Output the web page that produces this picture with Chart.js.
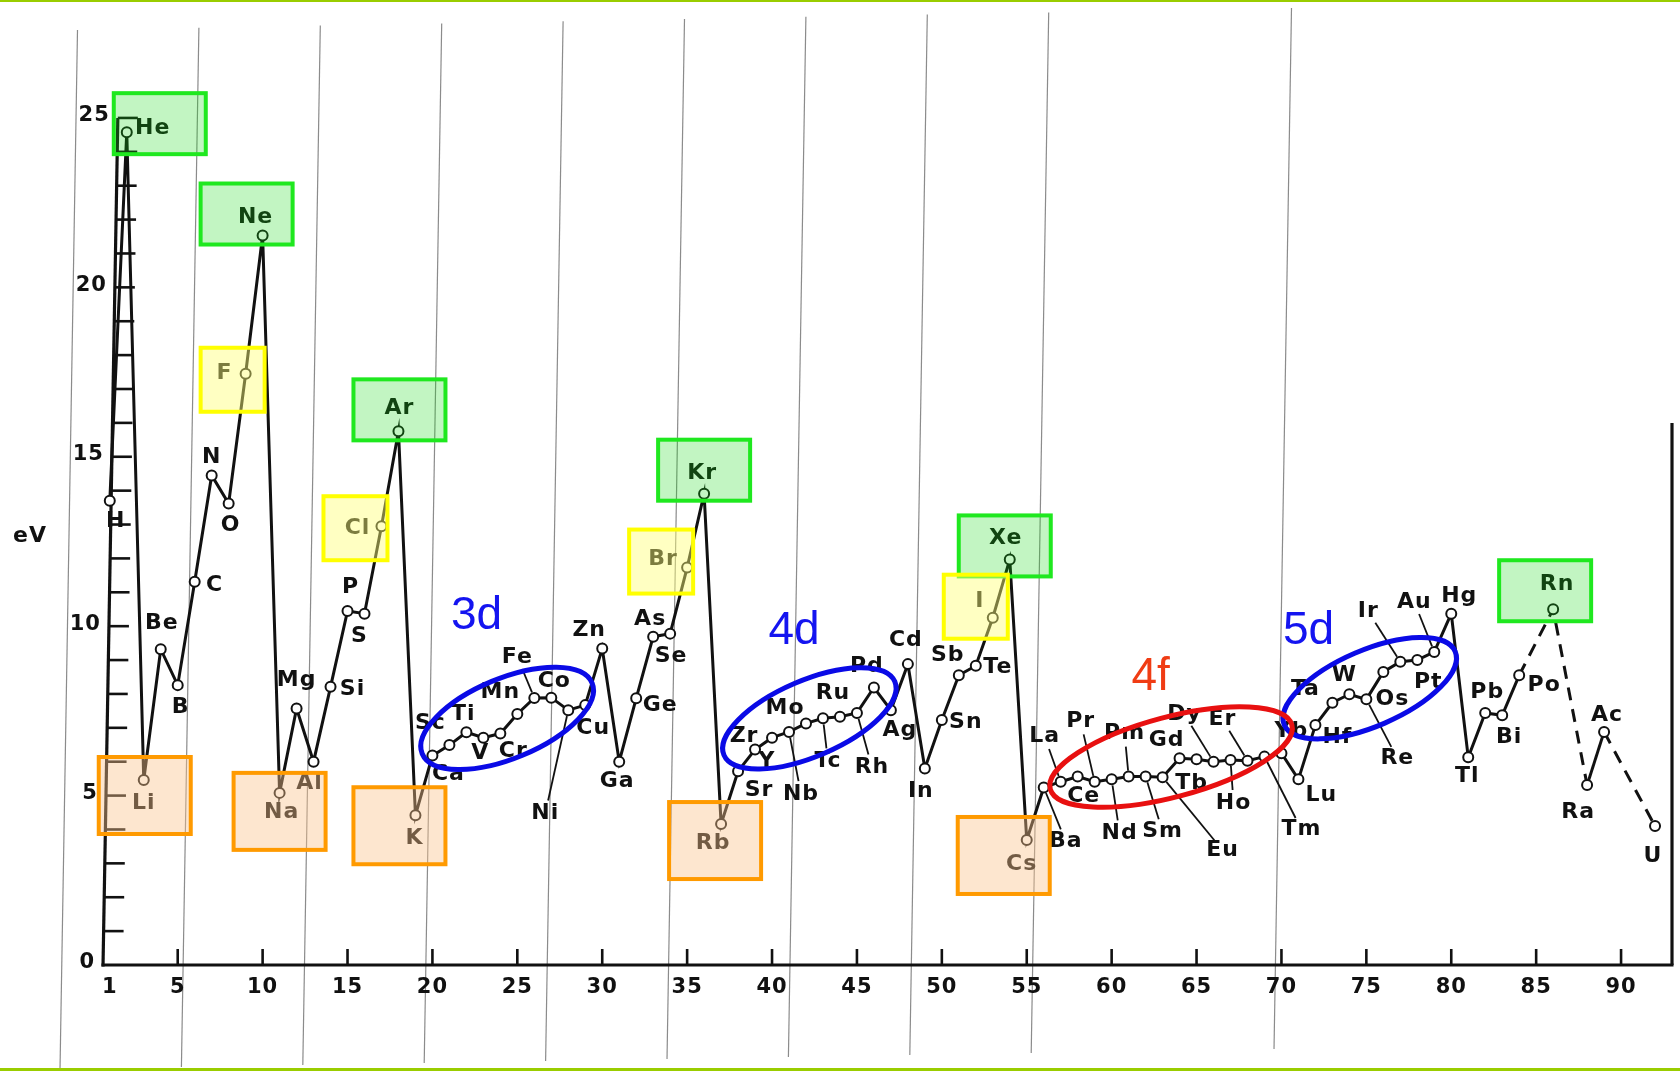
<!DOCTYPE html>
<html>
<head>
<meta charset="utf-8">
<title>First ionization energy</title>
<script src="https://cdn.jsdelivr.net/npm/chart.js@4.4.1/dist/chart.umd.min.js"></script>
<style>
    html, body { margin: 0; padding: 0; background: #fff; overflow: hidden; }
    #wrap { position: relative; width: 1680px; height: 1071px; }
</style>
</head>
<body>
<div id="wrap"><canvas id="chart"></canvas></div>
<script>
// Elements plotted (At, Fr, Th, Pa are missing: those gaps are dashed)
const symbols = [
    'H', 'He', 'Li', 'Be', 'B', 'C', 'N', 'O', 'F', 'Ne',
    'Na', 'Mg', 'Al', 'Si', 'P', 'S', 'Cl', 'Ar', 'K', 'Ca',
    'Sc', 'Ti', 'V', 'Cr', 'Mn', 'Fe', 'Co', 'Ni', 'Cu', 'Zn',
    'Ga', 'Ge', 'As', 'Se', 'Br', 'Kr', 'Rb', 'Sr', 'Y', 'Zr',
    'Nb', 'Mo', 'Tc', 'Ru', 'Rh', 'Pd', 'Ag', 'Cd', 'In', 'Sn',
    'Sb', 'Te', 'I', 'Xe', 'Cs', 'Ba', 'La', 'Ce', 'Pr', 'Nd',
    'Pm', 'Sm', 'Eu', 'Gd', 'Tb', 'Dy', 'Ho', 'Er', 'Tm', 'Yb',
    'Lu', 'Hf', 'Ta', 'W', 'Re', 'Os', 'Ir', 'Pt', 'Au', 'Hg',
    'Tl', 'Pb', 'Bi', 'Po', 'Rn', 'Ra', 'Ac', 'U'
];
const atomicNumbers = [
    1, 2, 3, 4, 5, 6, 7, 8, 9, 10,
    11, 12, 13, 14, 15, 16, 17, 18, 19, 20,
    21, 22, 23, 24, 25, 26, 27, 28, 29, 30,
    31, 32, 33, 34, 35, 36, 37, 38, 39, 40,
    41, 42, 43, 44, 45, 46, 47, 48, 49, 50,
    51, 52, 53, 54, 55, 56, 57, 58, 59, 60,
    61, 62, 63, 64, 65, 66, 67, 68, 69, 70,
    71, 72, 73, 74, 75, 76, 77, 78, 79, 80,
    81, 82, 83, 84, 86, 88, 89, 92
];
// first ionization energy, eV
const energies = [
    13.7, 24.58, 5.46, 9.32, 8.26, 11.31, 14.45, 13.62, 17.45, 21.53,
    5.08, 7.57, 6.0, 8.21, 10.45, 10.37, 12.95, 15.75, 4.42, 6.18,
    6.49, 6.87, 6.71, 6.83, 7.41, 7.88, 7.89, 7.52, 7.67, 9.34,
    6.0, 7.87, 9.69, 9.78, 11.73, 13.91, 4.16, 5.72, 6.36, 6.71,
    6.88, 7.13, 7.28, 7.33, 7.44, 8.19, 7.52, 8.88, 5.80, 7.23,
    8.55, 8.83, 10.25, 11.97, 3.69, 5.24, 5.41, 5.56, 5.41, 5.48,
    5.56, 5.56, 5.54, 6.10, 6.07, 6.0, 6.05, 6.03, 6.15, 6.25,
    5.48, 7.08, 7.74, 7.99, 7.84, 8.65, 8.95, 9.0, 9.24, 10.37,
    6.13, 7.44, 7.37, 8.55, 10.5, 5.31, 6.88, 4.1
];

const xTicks = [1, 5, 10, 15, 20, 25, 30, 35, 40, 45, 50, 55, 60, 65, 70, 75, 80, 85, 90];
const yTicks = [0, 5, 10, 15, 20, 25];

const nobleGases = ['He', 'Ne', 'Ar', 'Kr', 'Xe', 'Rn'];
const halogens = ['F', 'Cl', 'Br', 'I'];
const alkaliMetals = ['Li', 'Na', 'K', 'Rb', 'Cs'];

// sub-shell groups: ellipse centre and caption position (Z, eV)
const shellNames = ['3d', '4d', '5d', '4f'];
const shellCenterZ = [24.4, 42.2, 75.2, 63.5];
const shellCenterEV = [7.28, 7.28, 8.17, 6.14];
const shellTextZ = [22.6, 41.3, 71.6, 62.3];
const shellTextEV = [10.3, 9.84, 9.84, 8.49];

// ---- styles ----
const labelOffset = {
    H: [6, 20], He: [26, -4], Li: [0, 23], Be: [1, -26], B: [3, 22], C: [20, 3], N: [0, -18], O: [2, 22],
    F: [-21, 0], Ne: [-7, -18], Na: [2, 19], Mg: [0, -28], Al: [-4, 22], Si: [22, 2], P: [3, -24], S: [-5, 23],
    Cl: [-24, 2], Ar: [1, -23], K: [-1, 23], Ca: [16, 19], Sc: [-19, -22], Ti: [-3, -18], V: [-3, 16], Cr: [13, 18],
    Mn: [-17, -22], Fe: [-17, -41], Co: [3, -16], Ni: [-23, 103], Cu: [8, 23], Zn: [-13, -18], Ga: [-2, 20],
    Ge: [24, 7], As: [-3, -17], Se: [1, 23], Br: [-24, -8], Kr: [-2, -20], Rb: [-8, 19], Sr: [21, 19], Y: [12, 12],
    Zr: [-28, -1], Nb: [12, 62], Mo: [-21, -15], Tc: [5, 43], Ru: [-7, -23], Rh: [15, 54], Pd: [-7, -21],
    Ag: [9, 20], Cd: [-2, -24], In: [-4, 23], Sn: [24, 2], Sb: [-11, -20], Te: [22, 1], I: [-13, -16],
    Xe: [-4, -21], Cs: [-5, 24], Ba: [22, 54], La: [-16, -45], Ce: [6, 20], Pr: [-14, -60], Nd: [8, 54],
    Pm: [-4, -43], Sm: [17, 55], Eu: [60, 73], Gd: [-13, -18], Tb: [-5, 24], Dy: [-29, -47], Ho: [3, 43],
    Er: [-25, -41], Tm: [37, 73], Yb: [10, -22], Lu: [23, 16], Hf: [22, 12], Ta: [-27, -13], W: [-5, -19],
    Re: [31, 59], Os: [9, 27], Ir: [-32, -50], Pt: [11, 22], Au: [-20, -50], Hg: [8, -17], Tl: [-1, 19],
    Pb: [2, -21], Bi: [7, 22], Po: [25, 10], Rn: [4, -25], Ra: [-9, 27], Ac: [3, -17], U: [-2, 30]
};
const leaders = ['Fe', 'Ni', 'Nb', 'Tc', 'Rh', 'Ba', 'La', 'Pr', 'Nd', 'Pm', 'Sm', 'Eu', 'Dy', 'Ho', 'Er', 'Tm', 'Re', 'Ir', 'Au'];

// box left/top relative to the point
const boxOffset = {
    He: [-13, -39], Ne: [-62, -52], Ar: [-45, -52], Kr: [-46, -54], Xe: [-51, -44], Rn: [-54, -49],
    F: [-45, -26], Cl: [-58, -30], Br: [-58, -38], I: [-49, -43],
    Li: [-45, -23], Na: [-46, -20], K: [-62, -28], Rb: [-52, -22], Cs: [-69, -23]
};
const boxStyles = [
    { members: nobleGases, w: 92, h: 61, fill: 'rgba(20, 215, 20, 0.26)', stroke: '#1fe81f' },
    { members: halogens, w: 64, h: 64, fill: 'rgba(255, 255, 120, 0.45)', stroke: '#ffff00' },
    { members: alkaliMetals, w: 92, h: 77, fill: 'rgba(250, 195, 140, 0.42)', stroke: '#ff9a00' }
];
const shellStyles = {
    '3d': { rx: 92, ry: 40, rot: -22.6, color: '#0a0ae6', text: '#1414f0' },
    '4d': { rx: 93, ry: 38, rot: -23.3, color: '#0a0ae6', text: '#1414f0' },
    '5d': { rx: 93, ry: 38, rot: -23.3, color: '#0a0ae6', text: '#1414f0' },
    '4f': { rx: 125, ry: 40, rot: -14.9, color: '#e81010', text: '#f03c14' }
};

const FONT = '"DejaVu Sans", sans-serif';
const LEAN = 0.0175; // the left axis leans slightly to the right going up

function axisX(chart, py) {
    return chart.chartArea.left + LEAN * (chart.chartArea.bottom - py);
}

function line(ctx, x1, y1, x2, y2) {
    ctx.beginPath();
    ctx.moveTo(x1, y1);
    ctx.lineTo(x2, y2);
    ctx.stroke();
}

const framePlugin = {
    id: 'frame',
    beforeDraw(chart) {
        const { ctx, width, height } = chart;
        ctx.save();
        ctx.fillStyle = '#fff';
        ctx.fillRect(0, 0, width, height);

        // faint ruled lines of the sheet
        ctx.strokeStyle = 'rgba(110, 110, 110, 0.8)';
        ctx.lineWidth = 1.2;
        for (let i = 0; i < 11; i++) {
            if (i === 9) continue;
            const xb = 60 + i * 121.4;
            line(ctx, xb, 1069 - i * 2, xb + 17.5, 30 - i * 2.2);
        }

        ctx.fillStyle = '#9acd00';
        ctx.fillRect(0, 0, width, 2);
        ctx.fillRect(0, height - 3, width, 3);
        ctx.restore();
    },
    beforeDatasetsDraw(chart) {
        const { ctx, chartArea: area, scales: { x, y } } = chart;
        const y0 = y.getPixelForValue(0);
        ctx.save();
        ctx.strokeStyle = '#111';
        ctx.lineWidth = 3.2;

        line(ctx, axisX(chart, y0) - 1.5, y0, area.right + 1.5, y0);
        line(ctx, area.right, y0, area.right, y.getPixelForValue(16));
        const yTop = y.getPixelForValue(25);
        line(ctx, axisX(chart, y0), y0 + 1.5, axisX(chart, yTop), yTop);

        ctx.lineWidth = 2.6;
        for (let v = 1; v <= 25; v++) {
            const py = y.getPixelForValue(v);
            const px = axisX(chart, py);
            line(ctx, px, py, px + 20, py);
        }
        xTicks.forEach(t => {
            if (t === 1) return;
            const px = x.getPixelForValue(t);
            line(ctx, px, y0, px, y0 - 16);
        });

        ctx.fillStyle = '#111';
        ctx.font = 'bold 21px ' + FONT;
        ctx.letterSpacing = '1px';
        ctx.textBaseline = 'middle';
        ctx.textAlign = 'center';
        xTicks.forEach(t => ctx.fillText(String(t), x.getPixelForValue(t), y0 + 23));
        ctx.textAlign = 'right';
        yTicks.forEach(t => {
            const py = y.getPixelForValue(t);
            ctx.fillText(String(t), axisX(chart, py) - 8, py - 2);
        });
        ctx.textAlign = 'center';
        ctx.font = 'bold 22px ' + FONT;
        ctx.fillText('eV', 30, y.getPixelForValue(12.66));
        ctx.restore();
    }
};

const labelPlugin = {
    id: 'elementLabels',
    afterDatasetsDraw(chart) {
        const { ctx } = chart;
        const points = chart.getDatasetMeta(0).data;
        ctx.save();
        ctx.fillStyle = '#111';
        ctx.strokeStyle = '#111';
        ctx.lineWidth = 1.8;
        ctx.font = 'bold 22px ' + FONT;
        ctx.letterSpacing = '1px';
        ctx.textAlign = 'center';
        ctx.textBaseline = 'middle';
        points.forEach((pt, i) => {
            const sym = symbols[i];
            const [dx, dy] = labelOffset[sym] || [0, -20];
            const lx = pt.x + dx, ly = pt.y + dy;
            ctx.fillText(sym, lx, ly);
            if (leaders.includes(sym)) {
                const len = Math.hypot(dx, dy);
                const ux = -dx / len, uy = -dy / len;
                line(ctx, lx + ux * 13, ly + uy * 13, pt.x - ux * 6, pt.y - uy * 6);
            }
        });
        ctx.restore();
    }
};

const highlightPlugin = {
    id: 'highlights',
    afterDraw(chart) {
        const { ctx, scales: { x, y } } = chart;
        const points = chart.getDatasetMeta(0).data;
        ctx.save();

        boxStyles.forEach(style => {
            style.members.forEach(sym => {
                const pt = points[symbols.indexOf(sym)];
                const [ox, oy] = boxOffset[sym];
                ctx.fillStyle = style.fill;
                ctx.fillRect(pt.x + ox, pt.y + oy, style.w, style.h);
                ctx.strokeStyle = style.stroke;
                ctx.lineWidth = 4;
                ctx.strokeRect(pt.x + ox, pt.y + oy, style.w, style.h);
            });
        });

        shellNames.forEach((name, i) => {
            const s = shellStyles[name];
            ctx.strokeStyle = s.color;
            ctx.lineWidth = 5;
            ctx.beginPath();
            ctx.ellipse(x.getPixelForValue(shellCenterZ[i]), y.getPixelForValue(shellCenterEV[i]),
                s.rx, s.ry, s.rot * Math.PI / 180, 0, Math.PI * 2);
            ctx.stroke();

            ctx.fillStyle = s.text;
            ctx.font = '46px "Liberation Sans", Arial, sans-serif';
            ctx.textAlign = 'center';
            ctx.textBaseline = 'middle';
            ctx.fillText(name, x.getPixelForValue(shellTextZ[i]), y.getPixelForValue(shellTextEV[i]));
        });
        ctx.restore();
    }
};

const points = atomicNumbers.map((z, i) => ({ x: z, y: energies[i] }));

new Chart(document.getElementById('chart'), {
    type: 'line',
    data: {
        datasets: [{
            data: points,
            borderColor: '#111',
            borderWidth: 3,
            pointRadius: 5,
            pointBorderWidth: 2,
            pointBackgroundColor: '#fff',
            pointBorderColor: '#111',
            tension: 0,
            clip: false,
            segment: {
                borderDash: ctx => (ctx.p1.parsed.x - ctx.p0.parsed.x > 1 ? [13, 9] : undefined)
            }
        }]
    },
    options: {
        responsive: true,
        maintainAspectRatio: false,
        animation: false,
        layout: { padding: { left: 103, right: 8, top: 101, bottom: 106 } },
        scales: {
            x: { type: 'linear', min: 0.6, max: 93, display: false },
            y: { type: 'linear', min: 0, max: 25.5, display: false }
        },
        plugins: {
            legend: { display: false },
            tooltip: { enabled: false }
        }
    },
    plugins: [framePlugin, labelPlugin, highlightPlugin]
});
</script>
</body>
</html>
